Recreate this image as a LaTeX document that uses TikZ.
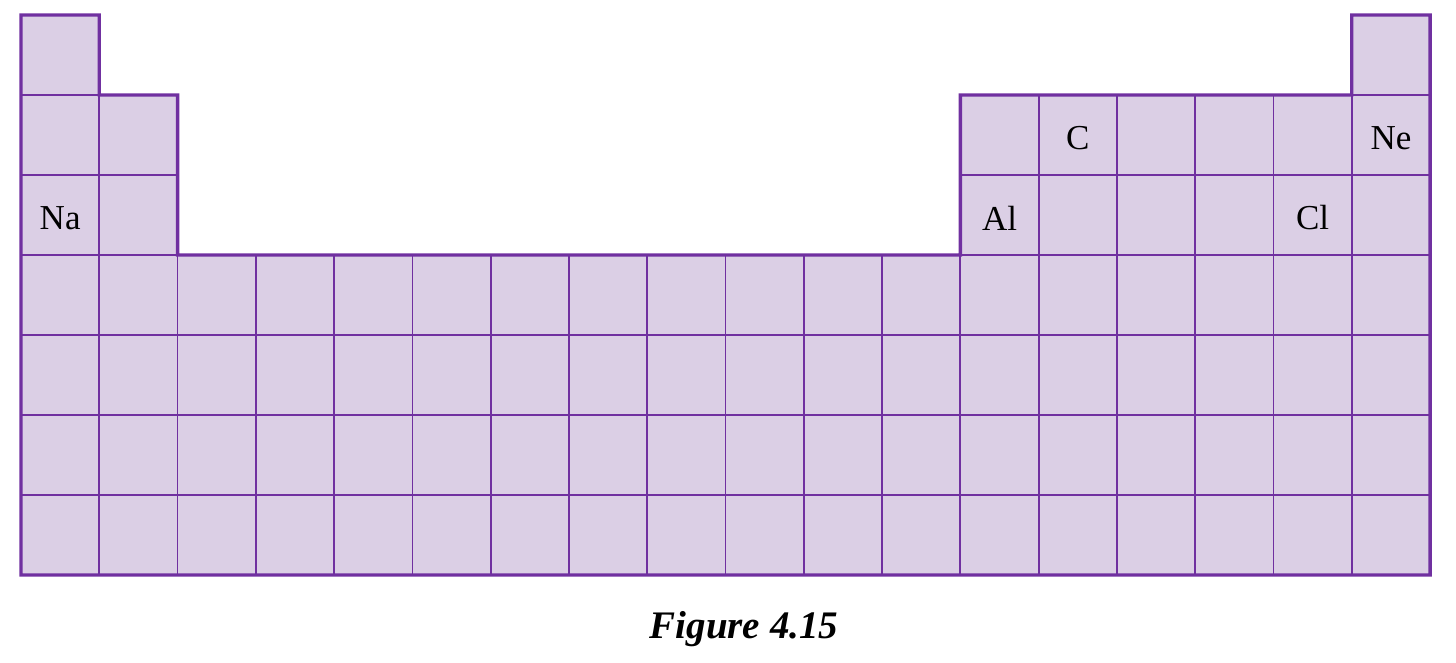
\documentclass[tikz,border=0pt]{standalone}
\usepackage{fontspec}
\setmainfont{Liberation Serif}
\definecolor{cellfill}{HTML}{DBCFE5}
\definecolor{cellline}{HTML}{7030A0}

\tikzset{
  cell/.style={draw=cellline, fill=cellfill, line width=0.9pt,
    minimum width=39.14pt, minimum height=40pt, inner sep=0pt, outer sep=0pt},
  element/.style={font=\fontsize{17.5}{20}\selectfont, yshift=-1.5pt},
  outline/.style={draw=cellline, line width=1.7pt, line join=miter},
}

\begin{document}
\begin{tikzpicture}[x=0.5pt, y=-0.5pt]
\useasboundingbox (0,0) rectangle (1456,663);

% first period
\foreach \c in {1,18}
  \node[cell] (c1-\c) at ({21+(\c-0.5)*78.28}, 55) {};
% second and third periods
\foreach \r in {2,3}
  \foreach \c in {1,2,13,14,...,18}
    \node[cell] (c\r-\c) at ({21+(\c-0.5)*78.28}, {15+(\r-0.5)*80}) {};
% periods four to seven
\foreach \r in {4,...,7}
  \foreach \c in {1,...,18}
    \node[cell] (c\r-\c) at ({21+(\c-0.5)*78.28}, {15+(\r-0.5)*80}) {};

% outer edge
\draw[outline] (c1-1.north west) -- (c1-1.north east) -- (c2-2.north west)
  -- (c2-2.north east) -- (c4-3.north west) -- (c4-12.north east)
  -- (c2-13.north west) -- (c2-17.north east) -- (c1-18.north west)
  -- (c1-18.north east) -- (c7-18.south east) -- (c7-1.south west) -- cycle;

% element symbols
\node[element] (na) at (c3-1) {Na};
\node[element] (al) at (c3-13) {Al};
\node[element] (c)  at (c2-14) {C};
\node[element] (cl) at (c3-17) {Cl};
\node[element] (ne) at (c2-18) {Ne};

\node[font=\fontsize{19.5}{22}\selectfont\bfseries\itshape] (caption) at (744,629) {Figure 4.15};

\end{tikzpicture}
\end{document}
